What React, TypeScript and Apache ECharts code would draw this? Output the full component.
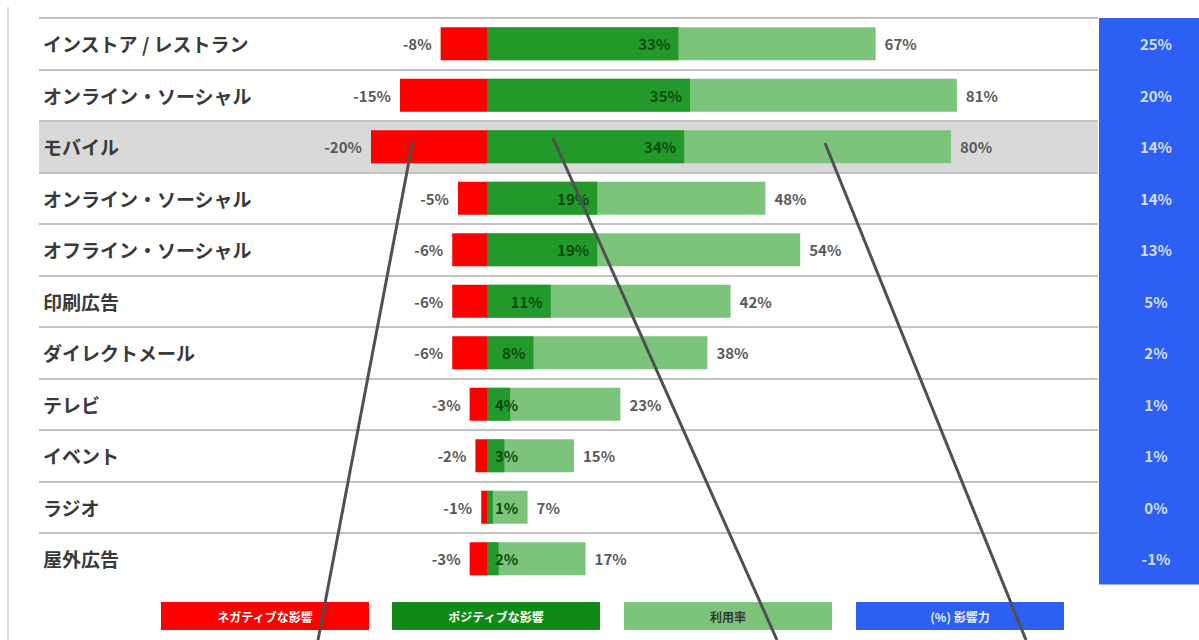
import React, { useEffect, useRef } from "react";
import * as echarts from "echarts";

const categories = [
  "インストア / レストラン",
  "オンライン・ソーシャル",
  "モバイル",
  "オンライン・ソーシャル",
  "オフライン・ソーシャル",
  "印刷広告",
  "ダイレクトメール",
  "テレビ",
  "イベント",
  "ラジオ",
  "屋外広告",
];
const negativeImpact = [-8, -15, -20, -5, -6, -6, -6, -3, -2, -1, -3];
const positiveImpact = [33, 35, 34, 19, 19, 11, 8, 4, 3, 1, 2];
const usageRate = [67, 81, 80, 48, 54, 42, 38, 23, 15, 7, 17];
const netInfluence = [25, 20, 14, 14, 13, 5, 2, 1, 1, 0, -1];
const legendLabels = ["ネガティブな影響", "ポジティブな影響", "利用率", "(%) 影響力"];
const highlightIndex = 2;

const FONT = '"Noto Sans CJK JP", "Noto Sans", sans-serif';
const RED = "#ff0000";
const DARK = "#23992b";
const LIGHT = "#7cc37c";
const BLUE = "#2d5ff2";

export default function App() {
  const ref = useRef<HTMLDivElement>(null);

  useEffect(() => {
    if (!ref.current) return;
    const chart = echarts.init(ref.current, null, { renderer: "svg" });

    const gridTop = 18;
    const rowH = 51.5;
    const gridH = rowH * categories.length;

    const bandColors = categories.map((_, i) =>
      i === highlightIndex ? "#d9d9d9" : "rgba(0,0,0,0)"
    );

    const legendColors = [RED, "#0f8a18", LIGHT, BLUE];
    const legendText = ["#ffffff", "#ffffff", "#333333", "#e8eeff"];
    const legendX = [161, 392, 624, 856];

    const legendGraphics = legendLabels.map((t, i) => ({
      type: "group",
      children: [
        {
          type: "rect",
          shape: { x: legendX[i], y: 602, width: 208, height: 28 },
          style: { fill: legendColors[i] },
        },
        {
          type: "text",
          x: legendX[i] + 104,
          y: 616,
          style: {
            text: t,
            fill: legendText[i],
            font: `bold 12px ${FONT}`,
            textAlign: "center",
            textVerticalAlign: "middle",
          },
        },
      ],
    }));

    const lines = [
      [413, 140, 318, 640],
      [553, 138, 777, 640],
      [825, 143, 1026, 640],
    ].map((l) => ({
      type: "line",
      z: 100,
      shape: { x1: l[0], y1: l[1], x2: l[2], y2: l[3] },
      style: { stroke: "#505050", lineWidth: 3 },
    }));

    const pctLabel = {
      fontSize: 15,
      fontWeight: "bold",
      fontFamily: FONT,
    };

    const option: any = {
      animation: false,
      backgroundColor: "#ffffff",
      textStyle: { fontFamily: FONT },
      grid: [
        { left: 39, right: 101, top: gridTop, height: gridH },
        {
          left: 1099,
          right: 0,
          top: gridTop,
          height: gridH,
          show: true,
          backgroundColor: BLUE,
          borderWidth: 0,
        },
      ],
      xAxis: [
        { type: "value", gridIndex: 0, min: -77.24, max: 105.34, show: false },
        { type: "value", gridIndex: 1, min: -1, max: 1, show: false },
      ],
      yAxis: [
        {
          type: "category",
          gridIndex: 0,
          data: categories,
          inverse: true,
          axisLine: { show: false },
          axisTick: { show: false },
          axisLabel: {
            align: "left",
            margin: -4,
            color: "#3a3a3a",
            fontSize: 19,
            fontWeight: "bold",
            fontFamily: FONT,
          },
          splitLine: {
            show: true,
            interval: 0,
            lineStyle: { color: "#c2c2c2", width: 2 },
          },
          splitArea: {
            show: true,
            interval: 0,
            areaStyle: { color: bandColors },
          },
        },
        {
          type: "category",
          gridIndex: 1,
          data: categories,
          inverse: true,
          show: false,
        },
      ],
      series: [
        {
          name: "利用率",
          type: "bar",
          xAxisIndex: 0,
          yAxisIndex: 0,
          data: usageRate,
          barWidth: 33,
          barGap: "-100%",
          itemStyle: { color: LIGHT },
          label: {
            show: true,
            position: "right",
            distance: 9,
            formatter: (p: any) => `${p.value}%`,
            color: "#5a5a5a",
            ...pctLabel,
          },
        },
        {
          name: "ポジティブな影響",
          type: "bar",
          xAxisIndex: 0,
          yAxisIndex: 0,
          barWidth: 33,
          barGap: "-100%",
          itemStyle: { color: DARK },
          data: positiveImpact.map((v) => ({
            value: v,
            label: {
              position: v >= 8 ? "insideRight" : "insideLeft",
            },
          })),
          label: {
            show: true,
            distance: 8,
            formatter: (p: any) => `${p.value}%`,
            color: "#0c4a10",
            ...pctLabel,
          },
        },
        {
          name: "ネガティブな影響",
          type: "bar",
          xAxisIndex: 0,
          yAxisIndex: 0,
          data: negativeImpact,
          barWidth: 33,
          barGap: "-100%",
          itemStyle: { color: RED },
          label: {
            show: true,
            position: "left",
            distance: 9,
            formatter: (p: any) => `${p.value}%`,
            color: "#5a5a5a",
            ...pctLabel,
          },
        },
        {
          name: "影響力",
          type: "scatter",
          xAxisIndex: 1,
          yAxisIndex: 1,
          symbolSize: 1,
          itemStyle: { color: "rgba(0,0,0,0)" },
          data: netInfluence.map((v, i) => [0, i, v]),
          label: {
            show: true,
            position: "inside",
            offset: [7, 0],
            formatter: (p: any) => `${p.value[2]}%`,
            color: "#ffffff",
            ...pctLabel,
          },
        },
      ],
      graphic: [
        {
          type: "line",
          shape: { x1: 8, y1: 7, x2: 8, y2: 640 },
          style: { stroke: "#dddddd", lineWidth: 2 },
        },
        {
          type: "rect",
          z: 50,
          shape: { x: 38, y: gridTop + gridH - 2, width: 1061, height: 5 },
          style: { fill: "#ffffff" },
        },
        ...legendGraphics,
        ...lines,
      ],
    };

    chart.setOption(option);
    return () => chart.dispose();
  }, []);

  return (
    <div
      ref={ref}
      style={{
        position: "fixed",
        left: 0,
        top: 0,
        width: 1199,
        height: 640,
        background: "#ffffff",
      }}
    />
  );
}
